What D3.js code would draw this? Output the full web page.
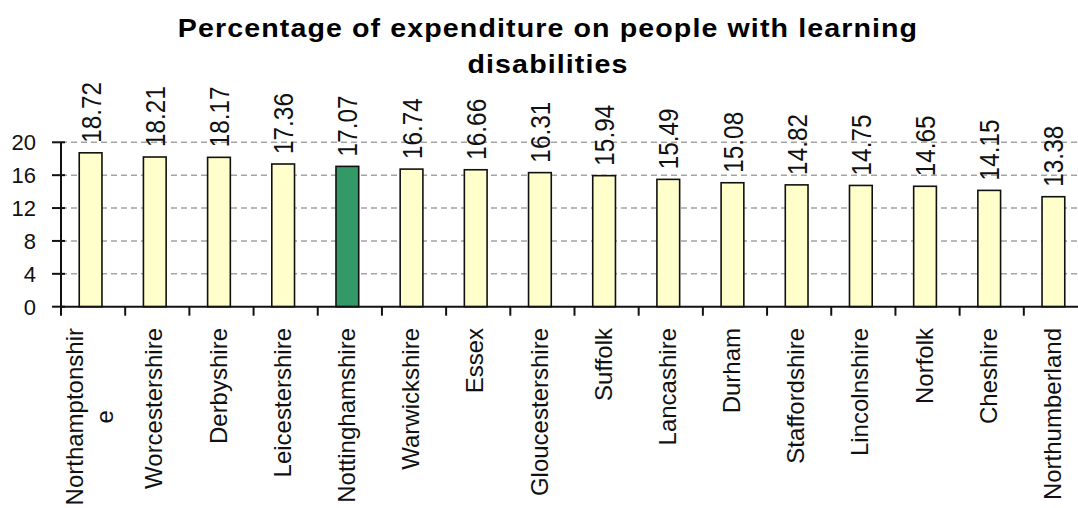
<!DOCTYPE html>
<html>
<head>
<meta charset="utf-8">
<script src="https://cdn.jsdelivr.net/npm/d3@7"></script>
<style>
  html, body { margin: 0; padding: 0; background: #fff; overflow: hidden; }
  svg { display: block; }
  text { font-family: Arial, "Liberation Sans", sans-serif; fill: #111; }
</style>
</head>
<body>
<svg id="chart" width="1078" height="508"></svg>
<script>
// Councils, sorted by share of spend on people with learning disabilities
const counties = [
  "Northamptonshire", "Worcestershire", "Derbyshire", "Leicestershire",
  "Nottinghamshire", "Warwickshire", "Essex", "Gloucestershire",
  "Suffolk", "Lancashire", "Durham", "Staffordshire",
  "Lincolnshire", "Norfolk", "Cheshire", "Northumberland"
];
const percentages = [
  18.72, 18.21, 18.17, 17.36,
  17.07, 16.74, 16.66, 16.31,
  15.94, 15.49, 15.08, 14.82,
  14.75, 14.65, 14.15, 13.38
];
const highlighted = ["Nottinghamshire"];
const yTicks = [0, 4, 8, 12, 16, 20];
const titleLines = ["Percentage of expenditure on people with learning", "disabilities"];

const svg = d3.select("#chart");

const plot = { left: 61, right: 1088, top: 142.3, bottom: 306.7 };
const x = d3.scaleBand().domain(counties).range([plot.left, plot.right]).padding(0);
const y = d3.scaleLinear().domain([0, 20]).range([plot.bottom, plot.top]);
const shift = -2.5;                    // bars sit slightly left of the category centre
const barW = x.bandwidth() * 0.354;

// Title: wide bold face, two lines
const title = svg.append("text")
  .attr("transform", "translate(548,0) scale(1.1,1)")
  .attr("text-anchor", "middle")
  .style("font-weight", "bold")
  .style("font-size", "26px")
  .style("letter-spacing", "1px")
  .style("fill", "#000");
title.selectAll("tspan").data(titleLines).join("tspan")
  .attr("x", 0)
  .attr("y", (d, i) => 37 + i * 36)
  .text(d => d);

// Dashed gridlines
svg.append("g").selectAll("line").data(yTicks.filter(t => t > 0)).join("line")
  .attr("x1", plot.left).attr("x2", plot.right)
  .attr("y1", d => y(d)).attr("y2", d => y(d))
  .attr("stroke", "#a3a3a3").attr("stroke-width", 1.6)
  .attr("stroke-dasharray", "6,4");

// Bars
svg.append("g").selectAll("rect").data(counties).join("rect")
  .attr("x", d => x(d) + x.bandwidth() / 2 + shift - barW / 2)
  .attr("width", barW)
  .attr("y", (d, i) => y(percentages[i]))
  .attr("height", (d, i) => y(0) - y(percentages[i]))
  .attr("fill", d => highlighted.includes(d) ? "#339966" : "#ffffcc")
  .attr("stroke", "#111").attr("stroke-width", 1.6);

// Value labels above bars, rotated
svg.append("g").selectAll("text").data(counties).join("text")
  .attr("transform", (d, i) =>
    `translate(${x(d) + x.bandwidth() / 2 + shift},${y(percentages[i]) - 10}) rotate(-90) scale(0.87,1)`)
  .attr("dy", "0.36em")
  .attr("text-anchor", "start")
  .style("font-size", "28px")
  .text((d, i) => percentages[i].toFixed(2));

// Y axis
const yAxis = svg.append("g");
yAxis.append("line")
  .attr("x1", plot.left).attr("x2", plot.left)
  .attr("y1", y(20)).attr("y2", y(0))
  .attr("stroke", "#111").attr("stroke-width", 2);
yAxis.selectAll("line.tick").data(yTicks).join("line")
  .attr("class", "tick")
  .attr("x1", 52).attr("x2", 65)
  .attr("y1", d => y(d)).attr("y2", d => y(d))
  .attr("stroke", "#111").attr("stroke-width", 2);
yAxis.selectAll("text").data(yTicks).join("text")
  .attr("x", 36).attr("y", d => y(d))
  .attr("dy", "0.36em")
  .attr("text-anchor", "end")
  .style("font-size", "22px")
  .text(d => d);

// X axis with boundary ticks
const xAxis = svg.append("g");
xAxis.append("line")
  .attr("x1", plot.left).attr("x2", plot.right)
  .attr("y1", y(0)).attr("y2", y(0))
  .attr("stroke", "#111").attr("stroke-width", 2);
const edges = counties.map(c => x(c)).concat([plot.right]);
xAxis.selectAll("line.tick").data(edges).join("line")
  .attr("class", "tick")
  .attr("x1", d => d).attr("x2", d => d)
  .attr("y1", y(0)).attr("y2", y(0) + 9)
  .attr("stroke", "#111").attr("stroke-width", 2);

// Category labels, rotated; long names wrap after 15 characters
const maxChars = 15;
const lineH = 30;
const wrap = s => {
  const out = [];
  for (let i = 0; i < s.length; i += maxChars) out.push(s.slice(i, i + maxChars));
  return out;
};
const catTop = 328;
counties.forEach(c => {
  const lines = wrap(c);
  const cx = x(c) + x.bandwidth() / 2 + shift - 1;
  const g = svg.append("g").attr("transform", `translate(${cx},${catTop}) rotate(-90)`);
  const t = g.selectAll("text").data(lines).join("text")
    .attr("text-anchor", "middle")
    .attr("dy", (d, i) => `${0.36 * 24 + (i - (lines.length - 1) / 2) * lineH}px`)
    .style("font-size", "24px")
    .text(d => d);
  const maxLen = d3.max(t.nodes(), n => n.getComputedTextLength());
  t.attr("x", -maxLen / 2);
});
</script>
</body>
</html>
